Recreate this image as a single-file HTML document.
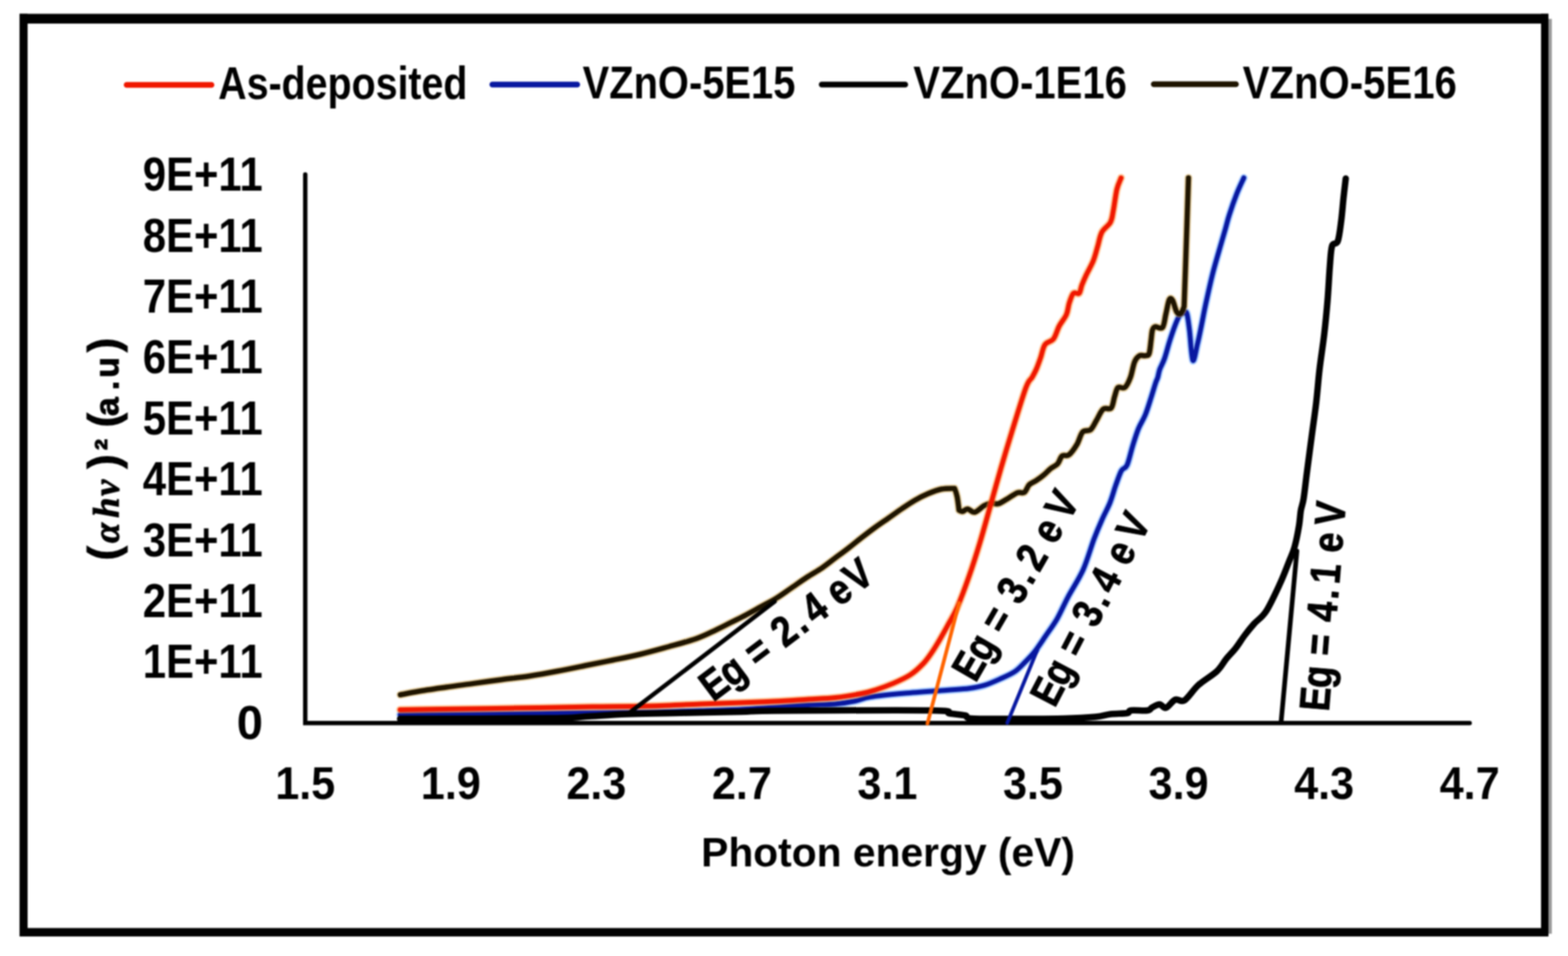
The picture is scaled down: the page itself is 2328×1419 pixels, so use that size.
<!DOCTYPE html>
<html><head><meta charset="utf-8"><title>Tauc plot</title>
<style>html,body{margin:0;padding:0;background:#fff;}svg{display:block;filter:blur(0.9px);}</style></head>
<body><svg width="2328" height="1419" viewBox="0 0 2328 1419">
<rect x="0" y="0" width="2328" height="1419" fill="#fff"/>
<rect x="2298" y="28" width="6" height="1358" fill="#9a9a9a"/>
<rect x="29" y="20.5" width="2270" height="14.5" fill="#000"/>
<rect x="29" y="1377.5" width="2270" height="12.5" fill="#000"/>
<rect x="29" y="20.5" width="12" height="1369.5" fill="#000"/>
<rect x="2288" y="20.5" width="11" height="1369.5" fill="#000"/>
<line x1="188" y1="126" x2="314" y2="126" stroke="#f01800" stroke-width="8.5" stroke-linecap="round"/>
<line x1="731" y1="125.5" x2="857" y2="125.5" stroke="#0818a0" stroke-width="8.5" stroke-linecap="round"/>
<line x1="1220" y1="125.5" x2="1344" y2="125.5" stroke="#000" stroke-width="8.5" stroke-linecap="round"/>
<line x1="1713" y1="125" x2="1835" y2="125" stroke="#1e1400" stroke-width="8.5" stroke-linecap="round"/>
<text x="324" y="146.5" style="font-family:'Liberation Sans',Arial,sans-serif;font-weight:bold;font-size:68px" textLength="370" lengthAdjust="spacingAndGlyphs">As-deposited</text>
<text x="865" y="146" style="font-family:'Liberation Sans',Arial,sans-serif;font-weight:bold;font-size:68px" textLength="316" lengthAdjust="spacingAndGlyphs">VZnO-5E15</text>
<text x="1356" y="146" style="font-family:'Liberation Sans',Arial,sans-serif;font-weight:bold;font-size:68px" textLength="317" lengthAdjust="spacingAndGlyphs">VZnO-1E16</text>
<text x="1845" y="146" style="font-family:'Liberation Sans',Arial,sans-serif;font-weight:bold;font-size:68px" textLength="318" lengthAdjust="spacingAndGlyphs">VZnO-5E16</text>
<polyline points="453.2,259 453.2,1073.2 2182,1073.2" fill="none" stroke="#000" stroke-width="6.5" stroke-linecap="round" stroke-linejoin="miter"/>
<text x="390" y="1006.35" style="font-family:'Liberation Sans',Arial,sans-serif;font-weight:bold;font-size:70px" textLength="178" lengthAdjust="spacingAndGlyphs" text-anchor="end">1E+11</text>
<text x="390" y="915.95" style="font-family:'Liberation Sans',Arial,sans-serif;font-weight:bold;font-size:70px" textLength="178" lengthAdjust="spacingAndGlyphs" text-anchor="end">2E+11</text>
<text x="390" y="825.55" style="font-family:'Liberation Sans',Arial,sans-serif;font-weight:bold;font-size:70px" textLength="178" lengthAdjust="spacingAndGlyphs" text-anchor="end">3E+11</text>
<text x="390" y="735.15" style="font-family:'Liberation Sans',Arial,sans-serif;font-weight:bold;font-size:70px" textLength="178" lengthAdjust="spacingAndGlyphs" text-anchor="end">4E+11</text>
<text x="390" y="644.75" style="font-family:'Liberation Sans',Arial,sans-serif;font-weight:bold;font-size:70px" textLength="178" lengthAdjust="spacingAndGlyphs" text-anchor="end">5E+11</text>
<text x="390" y="554.3499999999999" style="font-family:'Liberation Sans',Arial,sans-serif;font-weight:bold;font-size:70px" textLength="178" lengthAdjust="spacingAndGlyphs" text-anchor="end">6E+11</text>
<text x="390" y="463.94999999999993" style="font-family:'Liberation Sans',Arial,sans-serif;font-weight:bold;font-size:70px" textLength="178" lengthAdjust="spacingAndGlyphs" text-anchor="end">7E+11</text>
<text x="390" y="373.54999999999995" style="font-family:'Liberation Sans',Arial,sans-serif;font-weight:bold;font-size:70px" textLength="178" lengthAdjust="spacingAndGlyphs" text-anchor="end">8E+11</text>
<text x="390" y="283.15" style="font-family:'Liberation Sans',Arial,sans-serif;font-weight:bold;font-size:70px" textLength="178" lengthAdjust="spacingAndGlyphs" text-anchor="end">9E+11</text>
<text x="390.5" y="1096.75" style="font-family:'Liberation Sans',Arial,sans-serif;font-weight:bold;font-size:70px" text-anchor="end">0</text>
<text x="453.2" y="1185.5" style="font-family:'Liberation Sans',Arial,sans-serif;font-weight:bold;font-size:69px" textLength="89" lengthAdjust="spacingAndGlyphs" text-anchor="middle">1.5</text>
<text x="669.3" y="1185.5" style="font-family:'Liberation Sans',Arial,sans-serif;font-weight:bold;font-size:69px" textLength="89" lengthAdjust="spacingAndGlyphs" text-anchor="middle">1.9</text>
<text x="885.4" y="1185.5" style="font-family:'Liberation Sans',Arial,sans-serif;font-weight:bold;font-size:69px" textLength="89" lengthAdjust="spacingAndGlyphs" text-anchor="middle">2.3</text>
<text x="1101.5" y="1185.5" style="font-family:'Liberation Sans',Arial,sans-serif;font-weight:bold;font-size:69px" textLength="89" lengthAdjust="spacingAndGlyphs" text-anchor="middle">2.7</text>
<text x="1317.6" y="1185.5" style="font-family:'Liberation Sans',Arial,sans-serif;font-weight:bold;font-size:69px" textLength="89" lengthAdjust="spacingAndGlyphs" text-anchor="middle">3.1</text>
<text x="1533.7" y="1185.5" style="font-family:'Liberation Sans',Arial,sans-serif;font-weight:bold;font-size:69px" textLength="89" lengthAdjust="spacingAndGlyphs" text-anchor="middle">3.5</text>
<text x="1749.8" y="1185.5" style="font-family:'Liberation Sans',Arial,sans-serif;font-weight:bold;font-size:69px" textLength="89" lengthAdjust="spacingAndGlyphs" text-anchor="middle">3.9</text>
<text x="1965.9" y="1185.5" style="font-family:'Liberation Sans',Arial,sans-serif;font-weight:bold;font-size:69px" textLength="89" lengthAdjust="spacingAndGlyphs" text-anchor="middle">4.3</text>
<text x="2182.0" y="1185.5" style="font-family:'Liberation Sans',Arial,sans-serif;font-weight:bold;font-size:69px" textLength="89" lengthAdjust="spacingAndGlyphs" text-anchor="middle">4.7</text>
<text x="1318.5" y="1286" style="font-family:'Liberation Sans',Arial,sans-serif;font-weight:bold;font-size:62px" textLength="555" lengthAdjust="spacingAndGlyphs" text-anchor="middle">Photon energy (eV)</text>
<text transform="translate(175.5,830) rotate(-90)" x="9 39 76.5 106 145 170 189 206.5 226.5 258 284.5 318" text-anchor="middle" stroke="#000" stroke-width="1.2"><tspan style="font-family:'Liberation Sans',Arial,sans-serif;font-weight:bold;font-size:64px">(</tspan><tspan style="font-family:'Liberation Serif',serif;font-style:italic;font-weight:bold;font-size:54px">α</tspan><tspan style="font-family:'Liberation Serif',serif;font-style:italic;font-weight:bold;font-size:54px">h</tspan><tspan style="font-family:'Liberation Serif',serif;font-style:italic;font-weight:bold;font-size:54px">ν</tspan><tspan style="font-family:'Liberation Sans',Arial,sans-serif;font-weight:bold;font-size:64px">)</tspan><tspan style="font-family:'Liberation Sans',Arial,sans-serif;font-weight:bold;font-size:50px">²</tspan><tspan style="font-family:'Liberation Sans',Arial,sans-serif;font-weight:bold;font-size:50px"> </tspan><tspan style="font-family:'Liberation Sans',Arial,sans-serif;font-weight:bold;font-size:64px">(</tspan><tspan style="font-family:'Liberation Sans',Arial,sans-serif;font-weight:bold;font-size:50px">a</tspan><tspan style="font-family:'Liberation Sans',Arial,sans-serif;font-weight:bold;font-size:50px">.</tspan><tspan style="font-family:'Liberation Sans',Arial,sans-serif;font-weight:bold;font-size:50px">u</tspan><tspan style="font-family:'Liberation Sans',Arial,sans-serif;font-weight:bold;font-size:64px">)</tspan></text>
<path d="M594.0,1061.0 C611.7,1060.8 665.7,1060.3 700.0,1060.0 C734.3,1059.7 770.0,1059.3 800.0,1059.0 C830.0,1058.7 853.3,1058.3 880.0,1058.0 C906.7,1057.7 933.3,1057.5 960.0,1057.0 C986.7,1056.5 1016.7,1055.7 1040.0,1055.0 C1063.3,1054.3 1081.7,1053.8 1100.0,1053.0 C1118.3,1052.2 1133.3,1051.1 1150.0,1050.0 C1166.7,1048.9 1185.0,1047.3 1200.0,1046.5 C1215.0,1045.7 1228.3,1046.0 1240.0,1045.0 C1251.7,1044.0 1261.3,1042.2 1270.0,1040.5 C1278.7,1038.8 1279.8,1036.4 1292.0,1034.5 C1304.2,1032.6 1324.2,1030.7 1343.0,1029.0 C1361.8,1027.3 1389.0,1025.6 1405.0,1024.4 C1421.0,1023.2 1429.6,1022.9 1439.0,1021.7 C1448.4,1020.5 1454.0,1019.5 1461.5,1017.2 C1469.0,1014.9 1476.6,1011.5 1484.1,1008.1 C1491.6,1004.7 1500.2,1001.2 1506.6,996.9 C1513.0,992.6 1517.5,987.1 1522.4,982.2 C1527.3,977.3 1531.1,973.7 1536.0,967.5 C1540.9,961.3 1546.1,953.3 1551.7,945.0 C1557.3,936.7 1564.2,927.7 1569.8,917.9 C1575.4,908.1 1579.2,898.3 1585.6,886.3 C1592.0,874.3 1601.6,860.1 1608.1,845.7 C1614.5,831.3 1619.6,812.4 1624.3,800.0 C1629.0,787.6 1632.1,780.5 1636.1,771.5 C1640.0,762.5 1644.6,754.6 1648.0,746.1 C1651.4,737.6 1653.6,728.6 1656.4,720.7 C1659.2,712.8 1662.1,703.8 1664.9,698.7 C1667.7,693.6 1670.6,696.5 1673.4,690.3 C1676.2,684.1 1679.0,670.5 1681.8,661.5 C1684.6,652.5 1687.2,643.7 1690.3,636.1 C1693.4,628.5 1697.3,623.4 1700.4,615.8 C1703.5,608.2 1706.4,598.4 1708.9,590.5 C1711.5,582.6 1714.0,573.6 1715.7,568.5 C1717.4,563.4 1718.0,563.4 1719.0,560.0 C1720.0,556.6 1720.3,552.7 1722.0,548.0 C1723.7,543.3 1726.5,539.2 1729.0,532.0 C1731.5,524.8 1734.3,513.3 1737.0,505.0 C1739.7,496.7 1742.7,488.0 1745.0,482.0 C1747.3,476.0 1749.0,471.8 1751.0,469.0 C1753.0,466.2 1755.2,465.7 1757.0,465.0 C1758.8,464.3 1760.5,460.8 1762.0,465.0 C1763.5,469.2 1764.5,478.3 1766.0,490.0 C1767.5,501.7 1769.0,531.7 1771.0,535.0 C1773.0,538.3 1775.8,518.8 1778.0,510.0 C1780.2,501.2 1782.0,491.7 1784.0,482.0 C1786.0,472.3 1787.3,464.3 1790.0,452.0 C1792.7,439.7 1796.7,421.3 1800.0,408.0 C1803.3,394.7 1806.8,383.3 1810.0,372.0 C1813.2,360.7 1816.8,348.8 1819.3,340.0 C1821.8,331.2 1822.2,328.2 1825.0,319.4 C1827.8,310.6 1832.7,296.5 1836.3,287.3 C1839.9,278.1 1845.0,267.9 1846.7,264.0" fill="none" stroke="#3c8cff" stroke-opacity="0.45" stroke-width="11.5" stroke-linejoin="round" stroke-linecap="round"/>
<path d="M594.0,1061.0 C611.7,1060.8 665.7,1060.3 700.0,1060.0 C734.3,1059.7 770.0,1059.3 800.0,1059.0 C830.0,1058.7 853.3,1058.3 880.0,1058.0 C906.7,1057.7 933.3,1057.5 960.0,1057.0 C986.7,1056.5 1016.7,1055.7 1040.0,1055.0 C1063.3,1054.3 1081.7,1053.8 1100.0,1053.0 C1118.3,1052.2 1133.3,1051.1 1150.0,1050.0 C1166.7,1048.9 1185.0,1047.3 1200.0,1046.5 C1215.0,1045.7 1228.3,1046.0 1240.0,1045.0 C1251.7,1044.0 1261.3,1042.2 1270.0,1040.5 C1278.7,1038.8 1279.8,1036.4 1292.0,1034.5 C1304.2,1032.6 1324.2,1030.7 1343.0,1029.0 C1361.8,1027.3 1389.0,1025.6 1405.0,1024.4 C1421.0,1023.2 1429.6,1022.9 1439.0,1021.7 C1448.4,1020.5 1454.0,1019.5 1461.5,1017.2 C1469.0,1014.9 1476.6,1011.5 1484.1,1008.1 C1491.6,1004.7 1500.2,1001.2 1506.6,996.9 C1513.0,992.6 1517.5,987.1 1522.4,982.2 C1527.3,977.3 1531.1,973.7 1536.0,967.5 C1540.9,961.3 1546.1,953.3 1551.7,945.0 C1557.3,936.7 1564.2,927.7 1569.8,917.9 C1575.4,908.1 1579.2,898.3 1585.6,886.3 C1592.0,874.3 1601.6,860.1 1608.1,845.7 C1614.5,831.3 1619.6,812.4 1624.3,800.0 C1629.0,787.6 1632.1,780.5 1636.1,771.5 C1640.0,762.5 1644.6,754.6 1648.0,746.1 C1651.4,737.6 1653.6,728.6 1656.4,720.7 C1659.2,712.8 1662.1,703.8 1664.9,698.7 C1667.7,693.6 1670.6,696.5 1673.4,690.3 C1676.2,684.1 1679.0,670.5 1681.8,661.5 C1684.6,652.5 1687.2,643.7 1690.3,636.1 C1693.4,628.5 1697.3,623.4 1700.4,615.8 C1703.5,608.2 1706.4,598.4 1708.9,590.5 C1711.5,582.6 1714.0,573.6 1715.7,568.5 C1717.4,563.4 1718.0,563.4 1719.0,560.0 C1720.0,556.6 1720.3,552.7 1722.0,548.0 C1723.7,543.3 1726.5,539.2 1729.0,532.0 C1731.5,524.8 1734.3,513.3 1737.0,505.0 C1739.7,496.7 1742.7,488.0 1745.0,482.0 C1747.3,476.0 1749.0,471.8 1751.0,469.0 C1753.0,466.2 1755.2,465.7 1757.0,465.0 C1758.8,464.3 1760.5,460.8 1762.0,465.0 C1763.5,469.2 1764.5,478.3 1766.0,490.0 C1767.5,501.7 1769.0,531.7 1771.0,535.0 C1773.0,538.3 1775.8,518.8 1778.0,510.0 C1780.2,501.2 1782.0,491.7 1784.0,482.0 C1786.0,472.3 1787.3,464.3 1790.0,452.0 C1792.7,439.7 1796.7,421.3 1800.0,408.0 C1803.3,394.7 1806.8,383.3 1810.0,372.0 C1813.2,360.7 1816.8,348.8 1819.3,340.0 C1821.8,331.2 1822.2,328.2 1825.0,319.4 C1827.8,310.6 1832.7,296.5 1836.3,287.3 C1839.9,278.1 1845.0,267.9 1846.7,264.0" fill="none" stroke="#0818a0" stroke-width="7" stroke-linejoin="round" stroke-linecap="round"/>
<path d="M594.0,1067.0 C631.7,1066.8 774.0,1066.6 820.0,1066.0 C866.0,1065.4 851.7,1064.5 870.0,1063.5 C888.3,1062.5 908.3,1060.8 930.0,1060.0 C951.7,1059.2 971.7,1059.1 1000.0,1058.5 C1028.3,1057.9 1075.0,1057.1 1100.0,1056.5 C1125.0,1055.9 1103.0,1055.3 1150.0,1055.0 C1197.0,1054.7 1338.7,1053.8 1382.0,1054.5 C1425.3,1055.2 1401.5,1057.8 1410.0,1059.0 C1418.5,1060.2 1427.7,1060.8 1433.0,1062.0 C1438.3,1063.2 1430.8,1065.7 1442.0,1066.5 C1453.2,1067.3 1477.0,1067.0 1500.0,1067.0 C1523.0,1067.0 1558.9,1067.0 1580.0,1066.5 C1601.1,1066.0 1615.2,1065.1 1626.7,1064.0 C1638.2,1062.9 1640.9,1060.9 1648.7,1060.0 C1656.5,1059.1 1668.5,1059.4 1673.5,1058.5 C1678.5,1057.6 1674.0,1055.2 1679.0,1054.5 C1684.0,1053.8 1698.4,1055.2 1703.7,1054.5 C1709.0,1053.8 1707.6,1051.5 1710.6,1050.0 C1713.6,1048.5 1718.2,1045.4 1721.6,1045.5 C1725.0,1045.6 1727.3,1051.7 1731.2,1050.5 C1735.1,1049.3 1740.4,1040.3 1745.0,1038.5 C1749.6,1036.7 1753.0,1043.1 1758.7,1039.5 C1764.4,1035.9 1771.3,1024.0 1779.3,1016.8 C1787.3,1009.6 1799.9,1002.7 1806.8,996.2 C1813.7,989.7 1816.0,983.6 1820.6,978.0 C1825.2,972.4 1829.7,968.3 1834.3,962.5 C1838.9,956.7 1843.4,949.1 1848.0,943.0 C1852.6,936.9 1856.5,932.0 1861.8,926.0 C1867.1,920.0 1873.5,917.2 1880.0,907.0 C1886.5,896.8 1895.3,877.3 1901.0,865.0 C1906.7,852.7 1910.5,841.8 1914.0,833.0 C1917.5,824.2 1919.5,820.8 1922.0,812.0 C1924.5,803.2 1927.2,789.0 1928.7,780.0 C1930.2,771.0 1930.2,764.7 1931.3,758.0 C1932.4,751.3 1934.0,749.7 1935.5,740.0 C1937.0,730.3 1938.6,714.8 1940.6,699.6 C1942.6,684.4 1945.0,665.8 1947.3,648.9 C1949.5,632.0 1952.1,615.1 1954.1,598.2 C1956.1,581.3 1957.2,564.4 1959.2,547.5 C1961.2,530.6 1964.0,513.6 1966.0,496.7 C1968.0,479.8 1969.6,462.9 1971.0,446.0 C1972.4,429.1 1973.3,408.8 1974.4,395.3 C1975.5,381.8 1975.8,371.0 1977.8,364.8 C1979.8,358.6 1984.0,364.2 1986.2,358.0 C1988.5,351.8 1989.9,338.3 1991.3,327.6 C1992.7,316.9 1993.6,304.2 1994.7,293.8 C1995.8,283.4 1997.5,269.8 1998.0,265.0" fill="none" stroke="#000" stroke-width="9.5" stroke-linejoin="round" stroke-linecap="round"/>
<path d="M594.4,1031.3 C598.9,1030.5 609.9,1028.1 621.2,1026.2 C632.6,1024.3 648.8,1022.0 662.5,1020.0 C676.2,1018.0 690.0,1016.3 703.7,1014.4 C717.5,1012.5 731.2,1010.5 745.0,1008.7 C758.8,1006.9 772.5,1005.6 786.2,1003.5 C799.9,1001.4 813.6,998.9 827.4,996.3 C841.1,993.7 855.0,990.8 868.7,988.0 C882.5,985.2 896.2,982.6 909.9,979.8 C923.6,977.0 937.4,974.3 951.1,971.0 C964.9,967.7 978.6,963.8 992.4,960.0 C1006.1,956.2 1021.9,952.1 1033.6,948.0 C1045.3,943.9 1053.9,939.3 1062.5,935.3 C1071.1,931.3 1077.6,927.8 1085.1,924.0 C1092.6,920.2 1100.1,916.7 1107.6,912.7 C1115.1,908.8 1122.7,904.4 1130.2,900.3 C1137.7,896.2 1145.2,892.5 1152.7,887.9 C1160.2,883.3 1167.8,877.6 1175.3,872.5 C1182.8,867.4 1190.3,861.9 1197.8,857.0 C1205.2,852.1 1213.0,848.0 1220.0,843.3 C1227.0,838.5 1233.1,833.4 1239.7,828.5 C1246.3,823.6 1252.9,818.8 1259.5,813.7 C1266.1,808.6 1272.6,803.1 1279.2,798.0 C1285.8,792.9 1292.3,787.9 1298.9,783.1 C1305.5,778.3 1312.1,773.9 1318.7,769.3 C1325.3,764.7 1331.8,759.9 1338.4,755.5 C1345.0,751.1 1351.5,746.5 1358.1,742.7 C1364.7,738.9 1371.3,735.6 1377.9,732.8 C1384.5,730.0 1391.0,727.3 1397.6,726.0 C1404.2,724.7 1417.3,725.0 1417.3,725.0 C1417.3,725.0 1419.9,731.6 1421.0,737.0 C1422.1,742.4 1423.8,757.3 1423.8,757.3 C1423.8,757.3 1427.2,759.4 1429.3,759.1 C1431.4,758.8 1433.6,755.2 1436.6,755.4 C1439.5,755.6 1442.9,761.1 1447.0,760.3 C1451.1,759.5 1457.0,752.7 1461.1,750.5 C1465.2,748.3 1468.2,747.5 1471.7,747.0 C1475.2,746.5 1478.2,748.9 1482.3,747.7 C1486.4,746.5 1491.7,742.6 1496.4,739.9 C1501.1,737.2 1506.4,732.9 1510.5,731.4 C1514.6,729.9 1518.1,732.7 1521.0,730.7 C1523.9,728.7 1525.1,722.4 1528.1,719.5 C1531.0,716.6 1535.2,715.5 1538.7,713.1 C1542.2,710.8 1545.7,708.4 1549.2,705.4 C1552.8,702.4 1556.5,698.2 1560.0,695.4 C1563.5,692.6 1567.4,691.7 1570.2,688.6 C1573.0,685.5 1574.1,679.0 1576.9,676.8 C1579.7,674.5 1583.4,677.9 1587.1,675.1 C1590.8,672.3 1595.5,665.4 1598.9,659.8 C1602.3,654.1 1604.0,644.9 1607.4,641.2 C1610.8,637.5 1615.8,640.6 1619.2,637.8 C1622.6,635.0 1624.6,629.4 1627.7,624.3 C1630.8,619.2 1634.1,610.5 1637.8,607.4 C1641.5,604.3 1646.9,608.8 1649.7,605.7 C1652.5,602.6 1653.1,593.9 1654.8,588.8 C1656.5,583.7 1657.3,577.5 1659.8,575.2 C1662.3,572.9 1666.9,577.7 1670.0,575.2 C1673.1,572.7 1676.0,566.4 1678.4,560.0 C1680.8,553.6 1682.3,542.3 1684.6,537.0 C1686.8,531.7 1689.3,529.5 1691.9,528.0 C1694.5,526.5 1697.7,528.5 1700.0,528.0 C1702.3,527.5 1704.5,528.8 1706.0,525.0 C1707.5,521.2 1708.2,510.8 1709.0,505.0 C1709.8,499.2 1710.0,493.3 1711.0,490.0 C1712.0,486.7 1712.5,485.7 1715.0,485.0 C1717.5,484.3 1723.3,489.2 1726.0,486.0 C1728.7,482.8 1729.3,472.8 1731.0,466.0 C1732.7,459.2 1734.3,448.3 1736.0,445.0 C1737.7,441.7 1739.2,443.0 1741.0,446.0 C1742.8,449.0 1745.0,459.8 1747.0,463.0 C1749.0,466.2 1751.2,466.3 1753.0,465.0 C1754.8,463.7 1758.0,455.0 1758.0,455.0 C1758.0,455.0 1758.9,431.8 1760.0,400.0 C1761.1,368.2 1763.8,286.7 1764.5,264.0" fill="none" stroke="#c89a3c" stroke-opacity="0.5" stroke-width="11.5" stroke-linejoin="round" stroke-linecap="round"/>
<path d="M594.4,1031.3 C598.9,1030.5 609.9,1028.1 621.2,1026.2 C632.6,1024.3 648.8,1022.0 662.5,1020.0 C676.2,1018.0 690.0,1016.3 703.7,1014.4 C717.5,1012.5 731.2,1010.5 745.0,1008.7 C758.8,1006.9 772.5,1005.6 786.2,1003.5 C799.9,1001.4 813.6,998.9 827.4,996.3 C841.1,993.7 855.0,990.8 868.7,988.0 C882.5,985.2 896.2,982.6 909.9,979.8 C923.6,977.0 937.4,974.3 951.1,971.0 C964.9,967.7 978.6,963.8 992.4,960.0 C1006.1,956.2 1021.9,952.1 1033.6,948.0 C1045.3,943.9 1053.9,939.3 1062.5,935.3 C1071.1,931.3 1077.6,927.8 1085.1,924.0 C1092.6,920.2 1100.1,916.7 1107.6,912.7 C1115.1,908.8 1122.7,904.4 1130.2,900.3 C1137.7,896.2 1145.2,892.5 1152.7,887.9 C1160.2,883.3 1167.8,877.6 1175.3,872.5 C1182.8,867.4 1190.3,861.9 1197.8,857.0 C1205.2,852.1 1213.0,848.0 1220.0,843.3 C1227.0,838.5 1233.1,833.4 1239.7,828.5 C1246.3,823.6 1252.9,818.8 1259.5,813.7 C1266.1,808.6 1272.6,803.1 1279.2,798.0 C1285.8,792.9 1292.3,787.9 1298.9,783.1 C1305.5,778.3 1312.1,773.9 1318.7,769.3 C1325.3,764.7 1331.8,759.9 1338.4,755.5 C1345.0,751.1 1351.5,746.5 1358.1,742.7 C1364.7,738.9 1371.3,735.6 1377.9,732.8 C1384.5,730.0 1391.0,727.3 1397.6,726.0 C1404.2,724.7 1417.3,725.0 1417.3,725.0 C1417.3,725.0 1419.9,731.6 1421.0,737.0 C1422.1,742.4 1423.8,757.3 1423.8,757.3 C1423.8,757.3 1427.2,759.4 1429.3,759.1 C1431.4,758.8 1433.6,755.2 1436.6,755.4 C1439.5,755.6 1442.9,761.1 1447.0,760.3 C1451.1,759.5 1457.0,752.7 1461.1,750.5 C1465.2,748.3 1468.2,747.5 1471.7,747.0 C1475.2,746.5 1478.2,748.9 1482.3,747.7 C1486.4,746.5 1491.7,742.6 1496.4,739.9 C1501.1,737.2 1506.4,732.9 1510.5,731.4 C1514.6,729.9 1518.1,732.7 1521.0,730.7 C1523.9,728.7 1525.1,722.4 1528.1,719.5 C1531.0,716.6 1535.2,715.5 1538.7,713.1 C1542.2,710.8 1545.7,708.4 1549.2,705.4 C1552.8,702.4 1556.5,698.2 1560.0,695.4 C1563.5,692.6 1567.4,691.7 1570.2,688.6 C1573.0,685.5 1574.1,679.0 1576.9,676.8 C1579.7,674.5 1583.4,677.9 1587.1,675.1 C1590.8,672.3 1595.5,665.4 1598.9,659.8 C1602.3,654.1 1604.0,644.9 1607.4,641.2 C1610.8,637.5 1615.8,640.6 1619.2,637.8 C1622.6,635.0 1624.6,629.4 1627.7,624.3 C1630.8,619.2 1634.1,610.5 1637.8,607.4 C1641.5,604.3 1646.9,608.8 1649.7,605.7 C1652.5,602.6 1653.1,593.9 1654.8,588.8 C1656.5,583.7 1657.3,577.5 1659.8,575.2 C1662.3,572.9 1666.9,577.7 1670.0,575.2 C1673.1,572.7 1676.0,566.4 1678.4,560.0 C1680.8,553.6 1682.3,542.3 1684.6,537.0 C1686.8,531.7 1689.3,529.5 1691.9,528.0 C1694.5,526.5 1697.7,528.5 1700.0,528.0 C1702.3,527.5 1704.5,528.8 1706.0,525.0 C1707.5,521.2 1708.2,510.8 1709.0,505.0 C1709.8,499.2 1710.0,493.3 1711.0,490.0 C1712.0,486.7 1712.5,485.7 1715.0,485.0 C1717.5,484.3 1723.3,489.2 1726.0,486.0 C1728.7,482.8 1729.3,472.8 1731.0,466.0 C1732.7,459.2 1734.3,448.3 1736.0,445.0 C1737.7,441.7 1739.2,443.0 1741.0,446.0 C1742.8,449.0 1745.0,459.8 1747.0,463.0 C1749.0,466.2 1751.2,466.3 1753.0,465.0 C1754.8,463.7 1758.0,455.0 1758.0,455.0 C1758.0,455.0 1758.9,431.8 1760.0,400.0 C1761.1,368.2 1763.8,286.7 1764.5,264.0" fill="none" stroke="#1e1400" stroke-width="7.5" stroke-linejoin="round" stroke-linecap="round"/>
<path d="M594.0,1053.5 C611.7,1053.2 665.7,1052.5 700.0,1052.0 C734.3,1051.5 770.0,1051.0 800.0,1050.5 C830.0,1050.0 853.3,1049.4 880.0,1049.0 C906.7,1048.6 933.3,1048.7 960.0,1048.0 C986.7,1047.3 1016.7,1045.8 1040.0,1045.0 C1063.3,1044.2 1081.7,1043.7 1100.0,1043.0 C1118.3,1042.3 1133.3,1041.8 1150.0,1041.0 C1166.7,1040.2 1185.0,1038.9 1200.0,1038.0 C1215.0,1037.1 1226.8,1036.9 1240.0,1035.5 C1253.2,1034.1 1269.0,1031.4 1279.0,1029.5 C1289.0,1027.6 1292.2,1026.5 1300.0,1024.0 C1307.8,1021.5 1317.4,1018.1 1326.0,1014.4 C1334.6,1010.7 1344.1,1006.6 1351.5,1001.7 C1358.9,996.9 1365.2,990.8 1370.5,985.3 C1375.8,979.8 1379.0,974.9 1383.2,968.8 C1387.4,962.7 1391.6,955.7 1395.8,948.5 C1400.0,941.3 1404.3,933.5 1408.5,925.7 C1412.7,917.9 1416.1,913.4 1421.2,901.6 C1426.3,889.8 1433.4,870.8 1439.0,854.7 C1444.6,838.6 1449.9,821.8 1455.0,804.9 C1460.1,788.0 1464.4,771.9 1469.6,753.6 C1474.8,735.3 1480.6,713.9 1486.1,695.0 C1491.6,676.1 1496.4,660.0 1502.6,640.0 C1508.8,620.0 1518.3,588.3 1523.3,575.0 C1528.3,561.7 1529.8,564.6 1532.4,560.0 C1535.0,555.4 1536.7,552.4 1538.8,547.5 C1540.9,542.6 1543.0,536.6 1545.1,530.6 C1547.2,524.6 1548.3,516.1 1551.5,511.5 C1554.7,506.9 1560.6,507.7 1564.1,503.1 C1567.6,498.5 1569.4,490.0 1572.6,484.0 C1575.8,478.0 1580.7,472.7 1583.2,467.1 C1585.7,461.5 1585.7,455.5 1587.4,450.2 C1589.2,444.9 1591.2,437.9 1593.7,435.4 C1596.2,432.9 1600.1,437.5 1602.2,435.4 C1604.3,433.3 1604.6,427.4 1606.4,422.8 C1608.2,418.2 1610.0,414.0 1612.8,408.0 C1615.6,402.0 1620.5,393.9 1623.3,386.8 C1626.1,379.8 1627.6,372.8 1629.7,365.7 C1631.8,358.6 1632.8,350.5 1636.0,344.5 C1639.2,338.5 1645.9,335.1 1648.7,329.8 C1651.5,324.5 1651.3,320.9 1652.9,312.8 C1654.5,304.7 1656.3,289.2 1658.2,281.1 C1660.1,273.0 1663.5,266.9 1664.5,264.0" fill="none" stroke="#ff8c30" stroke-opacity="0.5" stroke-width="11.5" stroke-linejoin="round" stroke-linecap="round"/>
<path d="M594.0,1053.5 C611.7,1053.2 665.7,1052.5 700.0,1052.0 C734.3,1051.5 770.0,1051.0 800.0,1050.5 C830.0,1050.0 853.3,1049.4 880.0,1049.0 C906.7,1048.6 933.3,1048.7 960.0,1048.0 C986.7,1047.3 1016.7,1045.8 1040.0,1045.0 C1063.3,1044.2 1081.7,1043.7 1100.0,1043.0 C1118.3,1042.3 1133.3,1041.8 1150.0,1041.0 C1166.7,1040.2 1185.0,1038.9 1200.0,1038.0 C1215.0,1037.1 1226.8,1036.9 1240.0,1035.5 C1253.2,1034.1 1269.0,1031.4 1279.0,1029.5 C1289.0,1027.6 1292.2,1026.5 1300.0,1024.0 C1307.8,1021.5 1317.4,1018.1 1326.0,1014.4 C1334.6,1010.7 1344.1,1006.6 1351.5,1001.7 C1358.9,996.9 1365.2,990.8 1370.5,985.3 C1375.8,979.8 1379.0,974.9 1383.2,968.8 C1387.4,962.7 1391.6,955.7 1395.8,948.5 C1400.0,941.3 1404.3,933.5 1408.5,925.7 C1412.7,917.9 1416.1,913.4 1421.2,901.6 C1426.3,889.8 1433.4,870.8 1439.0,854.7 C1444.6,838.6 1449.9,821.8 1455.0,804.9 C1460.1,788.0 1464.4,771.9 1469.6,753.6 C1474.8,735.3 1480.6,713.9 1486.1,695.0 C1491.6,676.1 1496.4,660.0 1502.6,640.0 C1508.8,620.0 1518.3,588.3 1523.3,575.0 C1528.3,561.7 1529.8,564.6 1532.4,560.0 C1535.0,555.4 1536.7,552.4 1538.8,547.5 C1540.9,542.6 1543.0,536.6 1545.1,530.6 C1547.2,524.6 1548.3,516.1 1551.5,511.5 C1554.7,506.9 1560.6,507.7 1564.1,503.1 C1567.6,498.5 1569.4,490.0 1572.6,484.0 C1575.8,478.0 1580.7,472.7 1583.2,467.1 C1585.7,461.5 1585.7,455.5 1587.4,450.2 C1589.2,444.9 1591.2,437.9 1593.7,435.4 C1596.2,432.9 1600.1,437.5 1602.2,435.4 C1604.3,433.3 1604.6,427.4 1606.4,422.8 C1608.2,418.2 1610.0,414.0 1612.8,408.0 C1615.6,402.0 1620.5,393.9 1623.3,386.8 C1626.1,379.8 1627.6,372.8 1629.7,365.7 C1631.8,358.6 1632.8,350.5 1636.0,344.5 C1639.2,338.5 1645.9,335.1 1648.7,329.8 C1651.5,324.5 1651.3,320.9 1652.9,312.8 C1654.5,304.7 1656.3,289.2 1658.2,281.1 C1660.1,273.0 1663.5,266.9 1664.5,264.0" fill="none" stroke="#f01800" stroke-width="7" stroke-linejoin="round" stroke-linecap="round"/>
<line x1="934.4" y1="1058" x2="1150" y2="893" stroke="#000" stroke-width="6.5" stroke-linecap="round"/>
<line x1="1377" y1="1074" x2="1424" y2="895" stroke="#ff6400" stroke-width="5.5" stroke-linecap="round"/>
<line x1="1495.5" y1="1073" x2="1540" y2="965" stroke="#0818a0" stroke-width="5.5" stroke-linecap="round"/>
<line x1="1902" y1="1072" x2="1925.5" y2="818" stroke="#000" stroke-width="7" stroke-linecap="round"/>
<text transform="translate(1062.3,1039.9) rotate(-37) scale(0.85,1)" x="15.9 54.7 82.4 110.6 138.8 168.8 200.0 235.3 262.4 288.2 330.6" text-anchor="middle" stroke="#000" stroke-width="1.2" style="font-family:'Liberation Sans',Arial,sans-serif;font-weight:bold;font-size:63px">Eg = 2.4 eV</text>
<text transform="translate(1450.3,1011) rotate(-60) scale(0.85,1)" x="15.9 54.7 82.4 110.6 138.8 168.8 200.0 235.3 262.4 290.0 340.8" text-anchor="middle" stroke="#000" stroke-width="1.2" style="font-family:'Liberation Sans',Arial,sans-serif;font-weight:bold;font-size:63px">Eg = 3.2 eV</text>
<text transform="translate(1567.7,1048.1) rotate(-62.5) scale(0.85,1)" x="15.9 54.7 82.4 110.6 138.8 168.8 200.0 235.3 262.4 290.0 340.8" text-anchor="middle" stroke="#000" stroke-width="1.2" style="font-family:'Liberation Sans',Arial,sans-serif;font-weight:bold;font-size:63px">Eg = 3.4 eV</text>
<text transform="translate(1973,1052.4) rotate(-85.3) scale(0.85,1)" x="15.9 54.7 82.4 110.6 138.8 168.8 200.0 235.3 262.4 290.0 340.8" text-anchor="middle" stroke="#000" stroke-width="1.2" style="font-family:'Liberation Sans',Arial,sans-serif;font-weight:bold;font-size:63px">Eg = 4.1 eV</text>
</svg></body></html>
